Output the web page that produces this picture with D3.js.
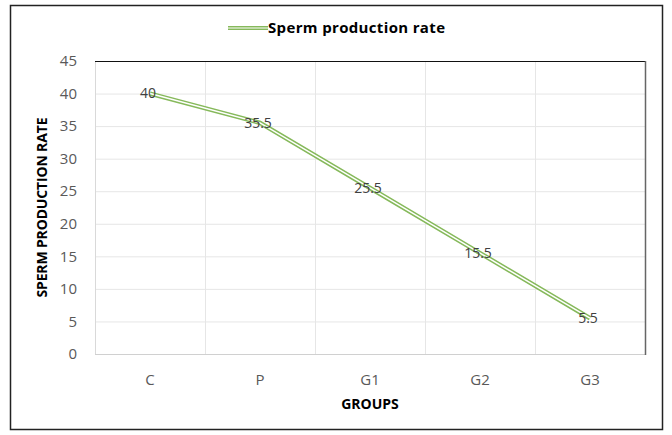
<!DOCTYPE html>
<html>
<head>
<meta charset="utf-8">
<script src="https://cdn.jsdelivr.net/npm/d3@7"></script>
<style>
  body { margin: 0; background: #fff; }
  svg { display: block; font-family: "Open Sans", "DejaVu Sans", sans-serif; }
</style>
</head>
<body>
<svg id="chart" width="672" height="435"></svg>
<script>
const groups = ["C", "P", "G1", "G2", "G3"];
const rates = [40, 35.5, 25.5, 15.5, 5.5];
const yTicks = [0, 5, 10, 15, 20, 25, 30, 35, 40, 45];

const svg = d3.select("#chart");
const margin = { left: 95, right: 27, top: 61, bottom: 81 };
const W = 672, H = 435;

// outer frame
svg.append("rect")
    .attr("x", 10.5).attr("y", 5.5)
    .attr("width", 652).attr("height", 424)
    .attr("fill", "#fff").attr("stroke", "#222").attr("stroke-width", 1.5);

const x = d3.scaleBand()
    .domain(groups)
    .range([margin.left, W - margin.right]);

const y = d3.scaleLinear()
    .domain([0, 45])
    .range([H - margin.bottom, margin.top]);

// gridlines
svg.append("g")
    .selectAll("line")
    .data(yTicks)
    .join("line")
    .attr("x1", margin.left).attr("x2", W - margin.right)
    .attr("y1", d => y(d) + 0.5).attr("y2", d => y(d) + 0.5)
    .attr("stroke", "#e6e6e6");

svg.append("g")
    .selectAll("line")
    .data(groups.slice(1))
    .join("line")
    .attr("x1", d => x(d) + 0.5).attr("x2", d => x(d) + 0.5)
    .attr("y1", margin.top).attr("y2", H - margin.bottom)
    .attr("stroke", "#e6e6e6");

// plot borders
svg.append("line")
    .attr("x1", margin.left + 0.5).attr("x2", margin.left + 0.5)
    .attr("y1", margin.top).attr("y2", H - margin.bottom)
    .attr("stroke", "#d9d9d9");
svg.append("line")
    .attr("x1", margin.left).attr("x2", W - margin.right)
    .attr("y1", H - margin.bottom + 0.5).attr("y2", H - margin.bottom + 0.5)
    .attr("stroke", "#d0d0d0");
svg.append("line")
    .attr("x1", margin.left).attr("x2", W - margin.right + 1)
    .attr("y1", margin.top + 0.5).attr("y2", margin.top + 0.5)
    .attr("stroke", "#111");
svg.append("line")
    .attr("x1", W - margin.right + 0.5).attr("x2", W - margin.right + 0.5)
    .attr("y1", margin.top).attr("y2", H - margin.bottom + 1)
    .attr("stroke", "#666").attr("stroke-width", 1.5);

// y tick labels
svg.append("g")
    .selectAll("text")
    .data(yTicks)
    .join("text")
    .attr("x", 77).attr("y", d => y(d))
    .attr("dy", "0.35em")
    .attr("text-anchor", "end")
    .attr("fill", "#595959")
    .attr("font-size", 15)
    .text(d => d);

// x tick labels
svg.append("g")
    .selectAll("text")
    .data(groups)
    .join("text")
    .attr("x", d => x(d) + x.bandwidth() / 2)
    .attr("y", 385)
    .attr("text-anchor", "middle")
    .attr("fill", "#595959")
    .attr("font-size", 15)
    .text(d => d);

// axis titles
svg.append("text")
    .attr("x", x.range()[0] + (x.range()[1] - x.range()[0]) / 2)
    .attr("y", 409)
    .attr("text-anchor", "middle")
    .attr("font-size", 14).attr("font-weight", "bold")
    .text("GROUPS");

svg.append("text")
    .attr("transform", `translate(47, ${(y(0) + y(45)) / 2}) rotate(-90)`)
    .attr("text-anchor", "middle")
    .attr("font-size", 14).attr("font-weight", "bold")
    .attr("textLength", 180)
    .text("SPERM PRODUCTION RATE");

// line (double stroke look)
const line = d3.line()
    .x((d, i) => x(groups[i]) + x.bandwidth() / 2)
    .y(d => y(d));

svg.append("path")
    .datum(rates)
    .attr("d", line)
    .attr("fill", "none")
    .attr("stroke", "#86b95b")
    .attr("stroke-width", 4.5);
svg.append("path")
    .datum(rates)
    .attr("d", line)
    .attr("fill", "none")
    .attr("stroke", "#fff")
    .attr("stroke-width", 1.5);

// data labels
svg.append("g")
    .selectAll("text")
    .data(rates)
    .join("text")
    .attr("x", (d, i) => x(groups[i]) + x.bandwidth() / 2 - 2)
    .attr("y", d => y(d))
    .attr("dy", "0.35em")
    .attr("text-anchor", "middle")
    .attr("fill", "#404040")
    .attr("font-size", 14)
    .text(d => d);

// legend
const lg = svg.append("g").attr("transform", "translate(228, 28)");
lg.append("line").attr("x1", 0).attr("x2", 40).attr("y1", 0).attr("y2", 0)
    .attr("stroke", "#86b95b").attr("stroke-width", 4);
lg.append("line").attr("x1", 0).attr("x2", 40).attr("y1", 0).attr("y2", 0)
    .attr("stroke", "#fff").attr("stroke-width", 1.2);
lg.append("text")
    .attr("x", 40).attr("y", 0).attr("dy", "0.35em")
    .attr("font-size", 15).attr("font-weight", "bold")
    .attr("textLength", 177)
    .text("Sperm production rate");
</script>
</body>
</html>
